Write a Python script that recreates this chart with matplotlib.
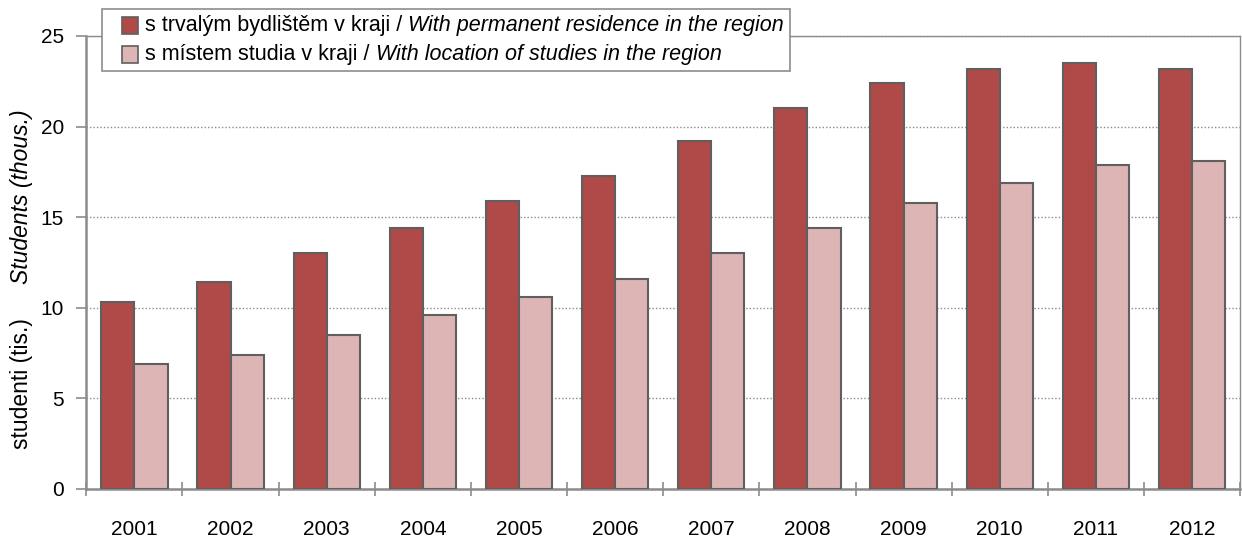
import numpy as np
import matplotlib
matplotlib.use('Agg')
import matplotlib.pyplot as plt
from matplotlib.offsetbox import TextArea, DrawingArea, HPacker, VPacker, AnchoredOffsetbox
from matplotlib.patches import Rectangle

plt.rcParams['font.family'] = ['Liberation Sans', 'DejaVu Sans']

# data (thousands of students)
years = ['2001', '2002', '2003', '2004', '2005', '2006',
         '2007', '2008', '2009', '2010', '2011', '2012']
residence = [10.3, 11.4, 13.0, 14.4, 15.9, 17.3, 19.2, 21.0, 22.4, 23.2, 23.5, 23.2]
study_loc = [6.9, 7.4, 8.5, 9.6, 10.6, 11.6, 13.0, 14.4, 15.8, 16.9, 17.9, 18.1]

lab_cz = ['s trvalým bydlištěm v kraji / ', 's místem studia v kraji / ']
lab_en = ['With permanent residence in the region', 'With location of studies in the region']
colors = ['#B04A48', '#DDB5B5']
edge = '#5F5F5F'
axis_gray = '#8C8C8C'
fs = 15

fig = plt.figure(figsize=(12.42, 5.37), dpi=100)
ax = fig.add_axes([0.0695, 0.0894, 0.929, 0.8436])

x = np.arange(len(years))
w = 0.345
ax.bar(x - w / 2, residence, w, color=colors[0], edgecolor=edge, linewidth=1.5, zorder=3)
ax.bar(x + w / 2, study_loc, w, color=colors[1], edgecolor=edge, linewidth=1.5, zorder=3)

ax.set_xlim(-0.5, len(years) - 0.5)
ax.set_ylim(0, 25)
ax.set_yticks([0, 5, 10, 15, 20, 25])
ax.yaxis.grid(True, linestyle=(0, (1, 1.5)), color='#8C8C8C', linewidth=1)
ax.set_axisbelow(True)

ax.set_xticks(x)
ax.set_xticklabels(years, fontsize=fs)
ax.tick_params(axis='x', which='major', length=0, pad=22)
ax.set_xticks(np.arange(-0.5, len(years)), minor=True)
ax.tick_params(axis='x', which='minor', direction='inout', length=10, color=axis_gray, width=1.2)
ax.tick_params(axis='y', direction='out', length=7, color=axis_gray, width=1.2, labelsize=fs, pad=9)

for s in ['left', 'bottom']:
    ax.spines[s].set_color(axis_gray)
    ax.spines[s].set_linewidth(1.8)
for s in ['top', 'right']:
    ax.spines[s].set_color(axis_gray)
    ax.spines[s].set_linewidth(1.0)

# y label: czech upright + english italic
fig.text(0.017, 0.285, 'studenti (tis.)', rotation=90, fontsize=16.5, ha='center', va='center')
fig.text(0.017, 0.633, 'Students (thous.)', rotation=90, fontsize=16.5, style='italic',
         ha='center', va='center')

# legend with mixed upright / italic text
lfs = 15.5
rows = []
for i in range(2):
    spacer = DrawingArea(5, 1, 0, 0)
    da = DrawingArea(12, 12, 0, 0)
    da.add_artist(Rectangle((0, 0), 12, 12, facecolor=colors[i], edgecolor=edge, linewidth=1.2))
    t1 = TextArea(lab_cz[i], textprops=dict(fontsize=lfs))
    t2 = TextArea(lab_en[i], textprops=dict(fontsize=lfs, style='italic'))
    rows.append(HPacker(children=[spacer, da, HPacker(children=[t1, t2], pad=0, sep=0)],
                        pad=0, sep=5, align='center'))
box = VPacker(children=rows, pad=0, sep=6, align='left')
anch = AnchoredOffsetbox(loc='upper left', child=box, pad=0.42, borderpad=0,
                         bbox_to_anchor=(0.082, 0.983), bbox_transform=fig.transFigure,
                         frameon=True)
anch.patch.set_edgecolor(axis_gray)
anch.patch.set_linewidth(1.2)
anch.patch.set_boxstyle('square', pad=0)
anch.zorder = 5
fig.add_artist(anch)

fig.savefig('out.png', dpi=100)
